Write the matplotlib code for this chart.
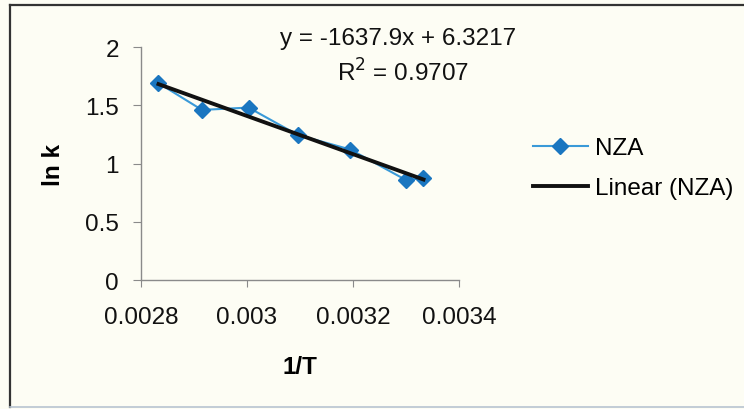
import matplotlib
matplotlib.use("Agg")
import matplotlib.pyplot as plt
from matplotlib.lines import Line2D

plt.rcParams['font.family'] = ['Liberation Sans', 'DejaVu Sans']

# data
inv_T = [0.002833, 0.002915, 0.003003, 0.003096, 0.003195, 0.0033, 0.003333]
ln_k = [1.69, 1.46, 1.48, 1.245, 1.12, 0.858, 0.875]
slope = -1637.9
intercept = 6.3217
r_squared = 0.9707
x_ticks = [0.0028, 0.003, 0.0032, 0.0034]
x_tick_labels = ["0.0028", "0.003", "0.0032", "0.0034"]
y_ticks = [0, 0.5, 1, 1.5, 2]
y_tick_labels = ["0", "0.5", "1", "1.5", "2"]

fs = 17.5
bg = "#fdfdf4"
W, H = 744, 410

fig = plt.figure(figsize=(7.44, 4.10), dpi=100, facecolor=bg)

# outer chart border (left/top dark, bottom faint)
fig.add_artist(Line2D([10 / W, 10 / W], [2 / H, 1 - 6 / H], color="#333333", linewidth=1.6))
fig.add_artist(Line2D([10 / W, 1], [1 - 6 / H, 1 - 6 / H], color="#333333", linewidth=1.6))
fig.add_artist(Line2D([10 / W, 1], [2 / H, 2 / H], color="#b8c4d0", linewidth=1.2))

ax = fig.add_axes([141 / W, 1 - 281 / H, 318 / W, 233 / H])
ax.set_facecolor("none")

# fitted trend line from the first to the last point
x_fit = [min(inv_T), max(inv_T)]
y_fit = [slope * x + intercept for x in x_fit]

ax.plot(inv_T, ln_k, color="#3a9ad8", linewidth=1.5, marker="D",
        markersize=8.5, markerfacecolor="#1a76c0", markeredgecolor="#1a76c0",
        label="NZA", zorder=2)
ax.plot(x_fit, y_fit, color="#111111", linewidth=2.8, label="Linear (NZA)", zorder=3)

ax.set_xlim(0.0028, 0.0034)
ax.set_ylim(0, 2)
ax.set_xticks(x_ticks)
ax.set_xticklabels(x_tick_labels, fontsize=fs)
ax.set_yticks(y_ticks)
ax.set_yticklabels(y_tick_labels, fontsize=fs)

for side in ["top", "right"]:
    ax.spines[side].set_visible(False)
for side in ["left", "bottom"]:
    ax.spines[side].set_color("#8a8a8a")
    ax.spines[side].set_linewidth(1.0)
ax.tick_params(axis="both", colors="#8a8a8a", labelcolor="#111111", direction="out")
ax.tick_params(axis="y", length=6, pad=10)
ax.tick_params(axis="x", length=5, pad=14)

ax.set_xlabel("1/T", fontsize=fs, fontweight="bold", labelpad=19)
ax.set_ylabel("ln k", fontsize=fs, fontweight="bold", labelpad=14)

fig.text(398 / W, 1 - 45 / H, f"y = {slope}x + {intercept}", fontsize=fs,
         ha="center", va="baseline", color="#111111")
fig.text(403 / W, 1 - 82 / H, f"R$^2$ = {r_squared}", fontsize=fs,
         ha="center", va="baseline", color="#111111")

fig.legend(loc="upper left", bbox_to_anchor=(533 / W, 1 - 138 / H),
           frameon=False, fontsize=fs, handlelength=2.26, handletextpad=0.3,
           labelspacing=0.74, borderaxespad=0, borderpad=0)

fig.savefig("out.png", dpi=100, facecolor=bg)
